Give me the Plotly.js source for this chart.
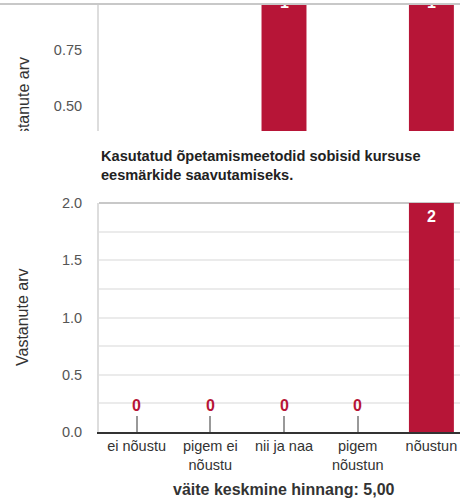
<!DOCTYPE html>
<html>
<head>
<meta charset="utf-8">
<script src="https://cdn.plot.ly/plotly-3.0.1.min.js"></script>
<style>
html, body { margin:0; padding:0; width:460px; height:501px; overflow:hidden; background:#fff; }
#topwrap { position:absolute; left:0; top:3px; width:460px; height:126px; border-top:2px solid #c8c8c8; overflow:hidden; }
#top { position:absolute; left:0; top:-71px; width:469px; height:368px; }
#bottom { position:absolute; left:0; top:131px; width:469px; height:370px; background:#fff; }
</style>
</head>
<body>
<div id="topwrap"><div id="top"></div></div>
<div id="bottom"></div>
<script>
// ---- data ----
const categories = ['ei nõustu', 'pigem ei<br>nõustu', 'nii ja naa', 'pigem<br>nõustun', 'nõustun'];
const topValues = [0, 0, 1, 0, 1];
const bottomValues = [0, 0, 0, 0, 2];
const topVisibleTicks = [0.5, 0.75];
const bottomTitle = 'Kasutatud õpetamismeetodid sobisid kursuse<br>eesmärkide saavutamiseks.';
const yTitle = 'Vastanute arv';
const xTitle = 'väite keskmine hinnang: 5,00';

// ---- style ----
const FONT = 'Liberation Sans, Arial, Helvetica, sans-serif';
const BAR = '#b71537';

function labelAnnotations(values, insideShift, showZero) {
  const out = [];
  values.forEach((v, i) => {
    if (v > 0) {
      out.push({
        x: categories[i], y: v, xref: 'x', yref: 'y', text: String(v),
        showarrow: false, yanchor: 'top', yshift: insideShift,
        font: {family: FONT, size: 16, color: '#ffffff', weight: 'bold'}
      });
    } else if (showZero) {
      out.push({
        x: categories[i], y: v, xref: 'x', yref: 'y', text: String(v),
        showarrow: false, yanchor: 'bottom', yshift: 16,
        font: {family: FONT, size: 16, color: BAR, weight: 'bold'}
      });
    }
  });
  return out;
}

function baseLayout(values, opts) {
  return {
    width: 469, height: opts.height,
    margin: {l: 99, r: 0, t: opts.t, b: opts.b},
    paper_bgcolor: '#fff', plot_bgcolor: '#fff',
    showlegend: false, bargap: 0.39,
    font: {family: FONT, color: '#333'},
    xaxis: {
      type: 'category', range: [-0.51, 4.51], fixedrange: true,
      showgrid: false, zeroline: false,
      showline: true, linecolor: '#333', linewidth: 2,
      ticks: 'inside', ticklen: 16, tickwidth: 2, tickcolor: '#999',
      layer: 'below traces', showticklabels: opts.showX,
      tickfont: {family: FONT, size: 14.5, color: '#333'}
    },
    yaxis: opts.yaxis,
    annotations: labelAnnotations(values, opts.insideShift, opts.showX).concat(opts.extraAnn || []),
    shapes: opts.shapes || []
  };
}

const yTitleAnn = {
  xref: 'paper', yref: 'paper', x: 0, y: 0.5, xanchor: 'center', yanchor: 'middle',
  xshift: -76.5, textangle: -90, showarrow: false, text: yTitle,
  font: {family: FONT, size: 16, color: '#333'}
};

// ---- top (partially hidden) chart ----
Plotly.newPlot('top', [{
  type: 'bar', x: categories, y: topValues, marker: {color: BAR}, hoverinfo: 'none'
}], baseLayout(topValues, {
  height: 368, t: 60, b: 84, showX: false, insideShift: 2,
  yaxis: {
    range: [0, 1], tickvals: topVisibleTicks, tickformat: '.2f', showgrid: false, zeroline: false,
    showline: true, linecolor: '#ddd', linewidth: 2, ticks: '', ticklabelstandoff: 12,
    tickfont: {family: FONT, size: 14.5, color: '#555'}, fixedrange: true
  },
  extraAnn: [Object.assign({}, yTitleAnn)]
}), {displayModeBar: false, staticPlot: true});

// ---- bottom chart ----
Plotly.newPlot('bottom', [{
  type: 'bar', x: categories, y: bottomValues, marker: {color: BAR}, hoverinfo: 'none'
}], baseLayout(bottomValues, {
  height: 370, t: 72, b: 69, showX: true, insideShift: -3,
  yaxis: {
    range: [0, 2], dtick: 0.5, tickformat: '.1f',
    showgrid: true, gridcolor: '#ebebeb', gridwidth: 2,
    minor: {dtick: 0.25, showgrid: true, gridcolor: '#ebebeb', gridwidth: 2},
    zeroline: false,
    showline: true, linecolor: '#ddd', linewidth: 2, ticks: '', ticklabelstandoff: 12,
    tickfont: {family: FONT, size: 14.5, color: '#555'}, fixedrange: true
  },
  shapes: [{
    type: 'line', xref: 'paper', yref: 'paper', x0: 0, x1: 1, y0: 1, y1: 1,
    line: {color: '#c8c8c8', width: 2}, layer: 'below'
  }],
  extraAnn: [
    Object.assign({}, yTitleAnn),
    {
      xref: 'paper', yref: 'paper', x: 0, y: 1, xanchor: 'left', yanchor: 'bottom',
      yshift: 18, align: 'left', showarrow: false, text: bottomTitle,
      font: {family: FONT, size: 14.6, color: '#222', weight: 'bold'}
    },
    {
      xref: 'paper', yref: 'paper', x: 0.5, y: 0, xanchor: 'center', yanchor: 'middle',
      yshift: -57, showarrow: false, text: xTitle,
      font: {family: FONT, size: 16, color: '#333', weight: 'bold'}
    }
  ]
}), {displayModeBar: false, staticPlot: true});
</script>
</body>
</html>
